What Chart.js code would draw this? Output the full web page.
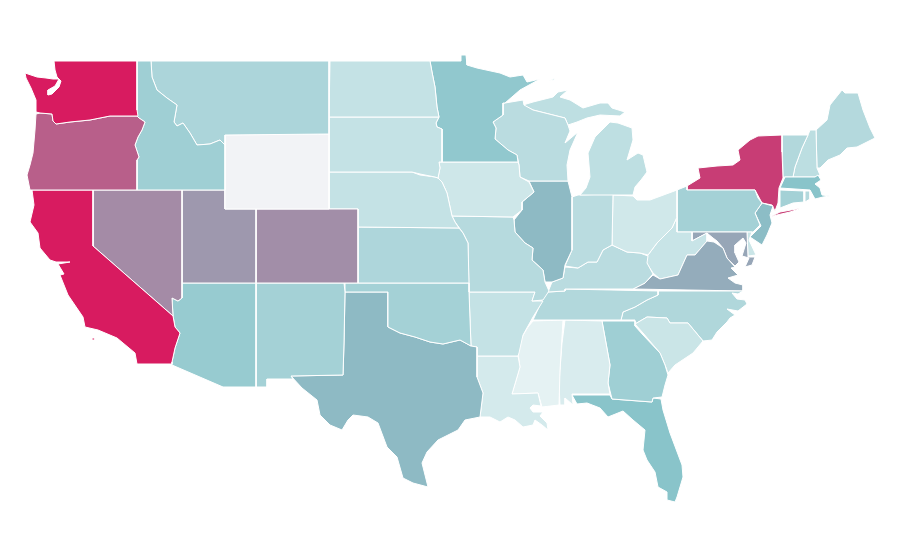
<!DOCTYPE html>
<html>
<head>
<meta charset="utf-8">
<title>US states</title>
<script src="https://cdn.jsdelivr.net/npm/chart.js@4"></script>
<style>
    html, body { margin: 0; background: #fff; }
    #mapa { display: block; }
</style>
</head>
<body>
<canvas id="mapa" width="900" height="560"></canvas>
<script>
// value per state, Wyoming has no data
const stateNames = ["WA","OR","CA","ID","NV","MT","WY","UT","AZ","CO","NM","ND","SD","NE","KS","OK","TX","MN","IA","MO","AR","LA","WI","IL","MI","IN","OH","KY","TN","MS","AL","GA","FL","SC","NC","VA","WV","MD","DE","PA","NJ","NY","CT","RI","MA","VT","NH","ME"];
const stateValues = [100,80,100,39,67,33,null,63,43,66,37,21,21,21,32,37,53,46,16,28,21,13,26,53,24,26,15,26,30,5,11,39,50,18,31,57,19,59,18,37,52,90,37,29,50,30,25,29];

// color ramp along the value axis
const rampValues = [0, 50, 100];
const rampColors = [[239,247,248],[137,196,202],[216,27,96]];
const noDataColor = "#f2f3f6";

// outlines in map units, one list of rings per state
const stateOutlines = {
    WA: [[[54,61],[137,61],[137,110],[138,116],[110,116],[90,120],[70,122],[56,124],[53,121],[52,114],[40,113],[36,112],[36,100],[31,88],[26,78],[25,73],[37,77],[46,78],[53,79],[59,79],[55,86],[48,90],[48,95],[52,94],[59,87],[61,81],[57,77],[55,70]]],
    OR: [[[36,114],[40,113],[52,114],[53,121],[56,124],[70,122],[90,120],[110,116],[137,116],[139,118],[145,122],[142,130],[138,137],[135,145],[139,157],[137,160],[137,190],[30,190],[27,175],[30,165],[33,153],[35,130]]],
    CA: [[[32,190],[93,190],[93,246],[173,316],[175,327],[180,333],[175,348],[172,362],[172,364],[137,364],[135,353],[117,338],[98,330],[85,327],[83,317],[68,295],[60,275],[64,274],[58,264],[70,262],[56,262],[50,260],[40,248],[38,233],[30,222],[34,205]],
         [[92,338],[95,338],[95,340],[92,340]]],
    ID: [[[137,61],[151,61],[152,77],[157,90],[167,98],[177,105],[174,122],[177,126],[183,123],[190,133],[197,145],[210,144],[220,140],[225,145],[225,190],[137,190],[137,160],[139,157],[135,145],[138,137],[142,130],[145,122],[139,118],[137,116],[137,110]]],
    NV: [[[93,190],[182,190],[182,298],[178,301],[172,298],[173,316],[93,246]]],
    MT: [[[151,61],[329,61],[329,134],[225,135],[225,145],[220,140],[210,144],[197,145],[190,133],[183,123],[177,126],[174,122],[177,105],[167,98],[157,90],[152,77]]],
    WY: [[[225,135],[329,134],[329,209],[225,209]]],
    UT: [[[182,190],[225,190],[225,209],[256,209],[256,283],[182,283]]],
    AZ: [[[182,283],[256,283],[256,387],[223,387],[172,365],[172,362],[175,348],[180,333],[175,327],[173,316],[172,298],[178,301],[182,298]]],
    CO: [[[256,209],[358,209],[358,283],[256,283]]],
    NM: [[[256,283],[344,283],[345,292],[344,343],[343,375],[291,376],[293,379],[267,379],[267,387],[256,387]]],
    ND: [[[330,61],[430,61],[432,72],[435,87],[437,107],[439,117],[329,117]]],
    SD: [[[329,117],[439,117],[436,123],[437,127],[442,129],[442,162],[439,162],[440,168],[438,178],[435,177],[420,174],[412,172],[329,172]]],
    NE: [[[329,172],[412,172],[420,175],[435,177],[438,178],[442,182],[447,193],[452,216],[455,222],[459,228],[358,227],[358,209],[329,209]]],
    KS: [[[358,227],[459,228],[463,233],[468,243],[469,283],[358,283]]],
    OK: [[[345,283],[469,283],[469,292],[471,346],[460,340],[443,344],[430,342],[415,337],[400,333],[388,327],[388,292],[345,292]]],
    TX: [[[345,292],[388,292],[388,327],[400,333],[415,337],[430,342],[443,344],[460,340],[471,346],[477,347],[477,377],[483,393],[480,417],[465,420],[458,430],[438,440],[427,452],[422,463],[428,487],[413,483],[403,478],[397,457],[387,447],[378,423],[368,417],[353,415],[348,420],[342,430],[330,425],[320,415],[317,400],[302,388],[291,376],[343,375],[344,343]]],
    MN: [[[430,61],[461,61],[461,55],[466,55],[467,65],[477,68],[500,73],[510,77],[523,75],[527,82],[540,79],[520,90],[505,103],[503,103],[503,115],[493,122],[496,128],[495,139],[508,150],[517,155],[518,162],[442,162],[442,129],[437,127],[436,123],[439,117],[437,107],[435,87],[432,72]]],
    IA: [[[439,162],[518,162],[519,165],[520,177],[529,182],[534,192],[522,202],[522,210],[513,217],[452,216],[447,193],[442,182],[438,178],[440,168]]],
    MO: [[[452,216],[513,217],[514,220],[515,232],[525,243],[533,248],[532,260],[543,270],[545,282],[549,291],[543,300],[532,301],[535,292],[469,292],[468,243],[463,233],[455,222]]],
    AR: [[[469,292],[535,292],[532,301],[543,301],[533,317],[523,335],[519,353],[518,356],[477,356],[477,347],[471,346]]],
    LA: [[[477,356],[518,356],[520,367],[512,394],[538,393],[541,406],[533,405],[530,408],[533,412],[543,412],[540,416],[547,423],[548,430],[542,425],[535,420],[533,425],[523,427],[515,420],[508,417],[500,422],[490,417],[480,417],[483,393],[477,377]]],
    WI: [[[505,103],[523,100],[524,105],[533,110],[565,118],[568,125],[570,131],[565,143],[578,132],[570,150],[567,165],[568,181],[529,181],[520,177],[519,165],[517,155],[508,150],[495,139],[496,128],[493,122],[503,115],[503,103]]],
    IL: [[[529,181],[568,181],[572,197],[572,250],[565,265],[563,278],[552,282],[545,282],[543,270],[532,260],[533,248],[525,243],[515,232],[514,220],[522,210],[522,202],[534,192]]],
    MI: [[[610,122],[618,123],[632,128],[633,140],[627,160],[638,153],[643,155],[647,172],[641,180],[635,187],[633,195],[580,195],[586,188],[590,177],[588,153],[595,137],[600,132]],
         [[523,105],[533,102],[553,97],[558,92],[568,90],[560,97],[570,100],[583,108],[600,103],[608,103],[612,108],[625,112],[620,116],[600,115],[587,118],[577,122],[568,125],[565,118],[533,110]],
         [[549,81],[555,78],[554,80]]],
    IN: [[[572,197],[578,195],[613,194],[612,245],[603,250],[597,262],[588,262],[578,268],[565,266],[572,250]]],
    OH: [[[613,195],[633,196],[637,200],[650,200],[677,190],[677,217],[672,228],[657,243],[648,255],[640,253],[627,252],[612,245]]],
    KY: [[[565,267],[578,268],[588,262],[597,262],[603,250],[612,245],[627,252],[640,253],[648,256],[647,263],[653,274],[645,283],[633,289],[565,289],[565,291],[548,292],[552,282],[563,278]]],
    TN: [[[548,292],[565,291],[565,289],[658,291],[658,295],[647,300],[635,307],[623,312],[621,320],[533,320],[540,305],[543,295]]],
    MS: [[[533,321],[563,320],[560,370],[559,405],[542,407],[538,393],[512,394],[520,367],[518,353],[522,337],[528,327]]],
    AL: [[[565,320],[602,321],[610,365],[608,383],[610,394],[572,394],[573,405],[565,398],[565,405],[560,405],[559,383],[562,343]]],
    GA: [[[602,321],[635,321],[635,326],[643,335],[660,353],[665,365],[668,375],[665,385],[662,397],[653,398],[652,402],[612,399],[608,383],[610,365]]],
    FL: [[[572,395],[610,395],[612,399],[652,402],[653,398],[661,399],[663,410],[670,433],[682,465],[683,477],[677,497],[675,502],[667,500],[667,492],[658,487],[655,472],[647,460],[643,450],[645,430],[633,420],[623,411],[608,417],[600,408],[587,403],[577,404]]],
    SC: [[[635,324],[647,317],[667,318],[670,323],[688,323],[703,341],[693,353],[675,365],[668,373],[665,365],[660,353],[643,333]]],
    NC: [[[658,291],[743,291],[738,294],[732,293],[737,299],[745,300],[747,304],[738,311],[727,309],[735,315],[730,318],[727,322],[717,332],[712,340],[703,341],[688,323],[670,323],[667,318],[647,317],[635,324],[635,320],[621,320],[623,312],[635,307],[647,300],[658,295]]],
    VA: [[[633,289],[645,283],[653,275],[660,279],[678,275],[687,255],[695,255],[707,241],[714,242],[723,248],[727,258],[735,267],[731,268],[738,275],[728,278],[735,283],[743,285],[743,291]]],
    WV: [[[648,255],[657,243],[672,228],[677,217],[677,232],[692,232],[692,241],[707,233],[707,241],[695,255],[687,255],[678,275],[660,279],[653,273],[646,262]]],
    MD: [[[692,232],[747,232],[748,257],[755,257],[752,265],[745,267],[749,258],[742,256],[746,243],[743,238],[735,245],[735,253],[739,262],[735,266],[727,258],[723,248],[717,241],[713,238],[707,233],[692,241]]],
    DE: [[[747,232],[752,232],[749,240],[756,255],[748,256]]],
    PA: [[[677,190],[687,186],[687,190],[755,190],[758,198],[762,203],[755,213],[760,225],[753,232],[677,232]]],
    NJ: [[[762,203],[773,206],[770,215],[772,223],[767,235],[762,245],[750,237],[761,226],[755,213]]],
    NY: [[[687,186],[700,178],[698,168],[717,166],[733,165],[740,160],[738,150],[750,140],[758,136],[782,135],[782,152],[783,178],[779,188],[778,203],[775,211],[772,205],[762,203],[755,190],[687,190]],
         [[770,217],[780,212],[802,208],[790,212],[777,215]]],
    CT: [[[780,190],[804,191],[804,202],[793,203],[780,208],[780,202]]],
    RI: [[[805,191],[810,191],[810,199],[805,202]]],
    MA: [[[785,177],[815,177],[818,175],[821,180],[815,184],[820,188],[822,195],[830,196],[823,197],[815,199],[810,190],[780,188]]],
    VT: [[[782,135],[808,135],[802,148],[795,167],[793,177],[783,177]]],
    NH: [[[810,130],[816,130],[817,168],[820,175],[815,177],[793,177],[795,167],[802,148],[808,135]]],
    ME: [[[816,130],[827,120],[830,105],[842,90],[845,93],[858,93],[863,110],[870,128],[875,138],[857,147],[847,148],[840,155],[828,160],[820,168],[817,168]]]
};

const colorFor = (value) => {
    if (value === null) return noDataColor;
    const i = value <= rampValues[1] ? 0 : 1;
    const t = (value - rampValues[i]) / (rampValues[i + 1] - rampValues[i]);
    const rgb = rampColors[i].map((c, k) => Math.round(c + (rampColors[i + 1][k] - c) * t));
    return `rgb(${rgb.join(",")})`;
};

const datasets = [];
stateNames.forEach((name, i) => {
    stateOutlines[name].forEach(ring => {
        datasets.push({
            label: name,
            data: [...ring, ring[0]].map(p => ({ x: p[0], y: p[1] })),
            showLine: true,
            fill: "shape",
            tension: 0,
            backgroundColor: colorFor(stateValues[i]),
            borderColor: "#ffffff",
            borderWidth: 1,
            borderJoinStyle: "round",
            pointRadius: 0
        });
    });
});

new Chart(document.querySelector("#mapa"), {
    type: "scatter",
    data: { datasets },
    options: {
        responsive: false,
        animation: false,
        layout: { padding: 0 },
        plugins: { legend: { display: false }, tooltip: { enabled: false } },
        scales: {
            x: { type: "linear", min: 0, max: 900, display: false },
            y: { type: "linear", min: 0, max: 560, reverse: true, display: false }
        }
    }
});
</script>
</body>
</html>
